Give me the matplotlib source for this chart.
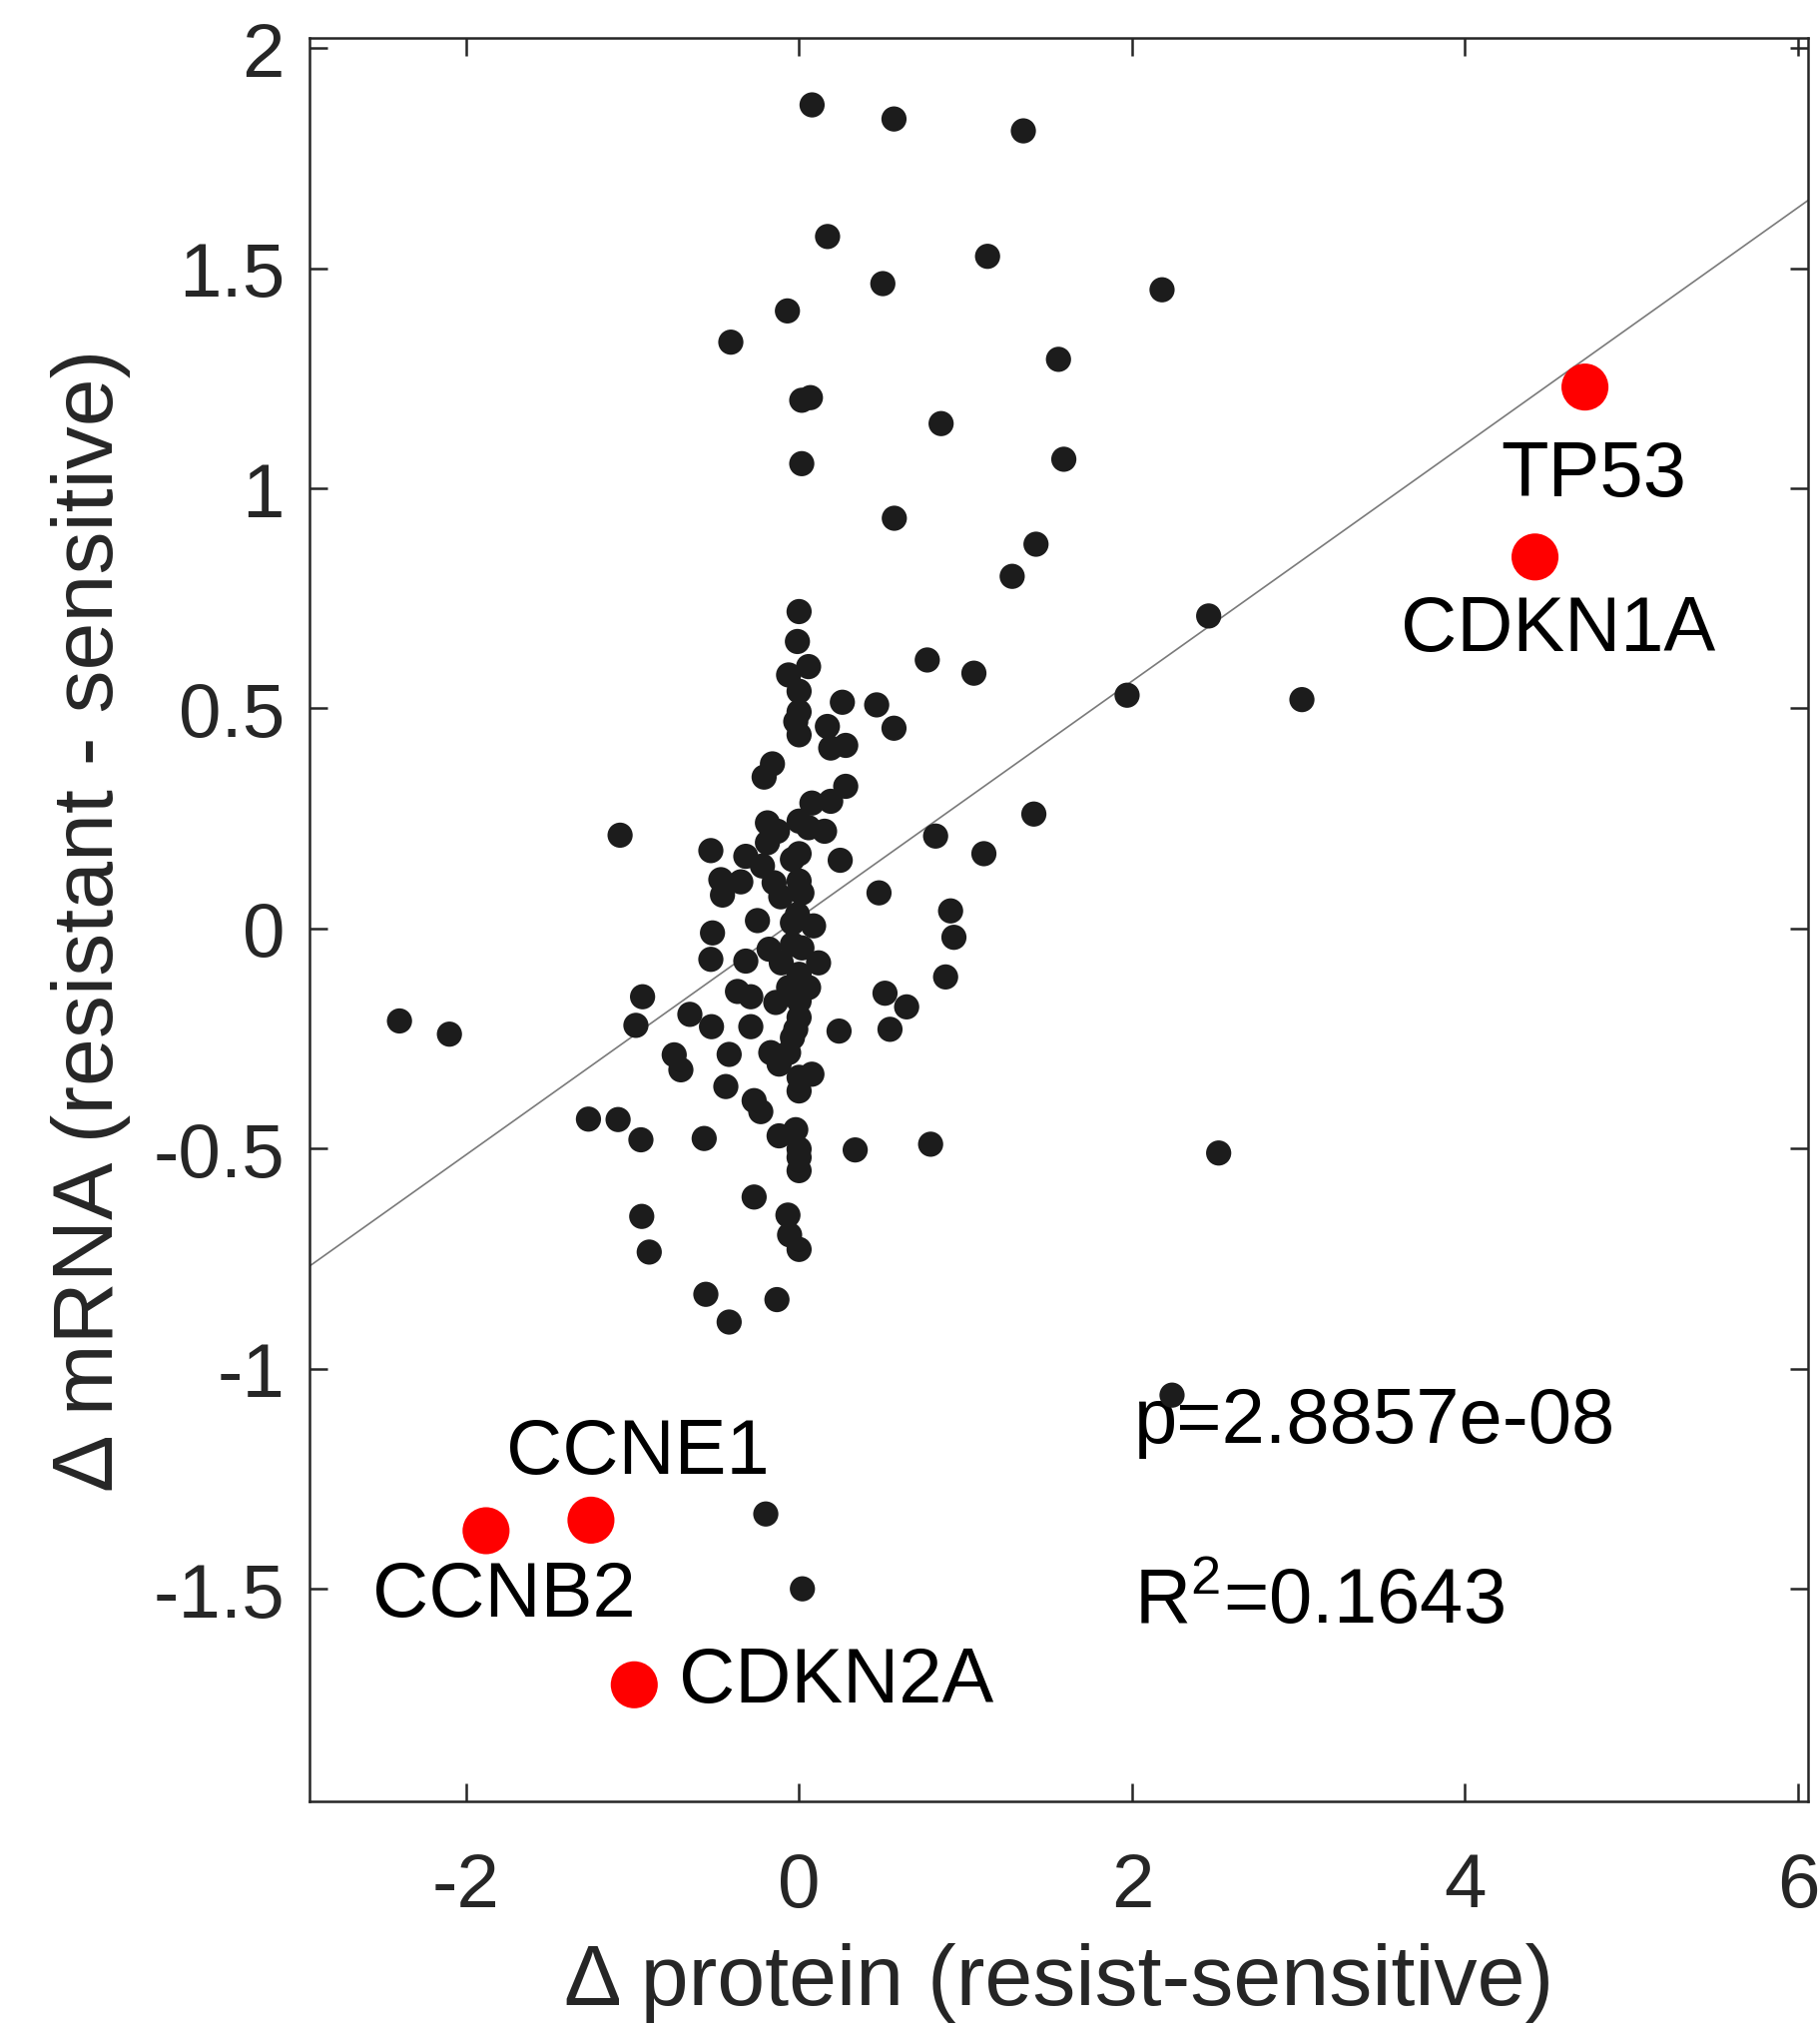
import matplotlib
matplotlib.use("Agg")
import matplotlib.pyplot as plt
import numpy as np

plt.rcParams['font.family'] = ['Liberation Sans', 'DejaVu Sans']
plt.rcParams['mathtext.fontset'] = 'custom'
plt.rcParams['mathtext.rm'] = 'Liberation Sans'

# delta protein / delta mRNA for all genes (black dots)
prot = [0.078, 0.57, 1.347, 0.171, 1.132, 0.503, 2.18, -0.07, -0.41, 1.558,
        0.016, 0.068, 0.853, 0.016, 1.59, 0.572, 1.423, 1.28, 2.46, 3.02,
        1.97, 1.05, 0.77, 1.41, 1.11, 0.82, 0.91, 0.93, 0.88, 2.52,
        2.24, -0.2, 0.02, -2.4, -2.1, 0.79,
        0.0, -0.01, 0.057, -0.063, 0.0, 0.0, -0.02, 0.0, 0.26, 0.466,
        0.57, 0.17, 0.19, 0.28, -0.16, -0.21, 0.28, 0.19, 0.077, -1.075,
        -0.53, -0.19, -0.13, -0.19, 0.0, 0.057, 0.153, 0.247, 0.0, -0.04,
        -0.32, -0.22, -0.47, -0.35, -0.46, -0.15, -0.11, 0.0, 0.017, 0.48,
        -0.25, -0.52, -0.01, 0.087, -0.04,
        -0.53, -0.32, -0.18, -0.04, 0.017, -0.107, 0.117, 0.0, 0.057, -0.063,
        -0.14, 0.0, 0.0, -0.02, -0.04, -0.063, -0.17, -0.12, 0.0, 0.077,
        0.0, -0.94, -0.98, -0.656, -0.526, -0.29, -0.37, -0.29, -0.42, -0.75,
        -0.71, -0.44, -0.27, -0.23, 0.24, 0.516, 0.646, 0.546, -1.265, -1.087,
        -0.95, -0.57, -0.12, -0.02, 0.0, 0.0, 0.0, 0.337, -0.27, -0.067,
        -0.057, 0.0, -0.945, -0.9,
        -0.56, -0.42, -0.133]
mrna = [1.871, 1.839, 1.812, 1.572, 1.527, 1.465, 1.451, 1.403, 1.332, 1.293,
        1.2, 1.206, 1.147, 1.056, 1.066, 0.932, 0.873, 0.80, 0.71, 0.52,
        0.53, 0.58, 0.61, 0.26, 0.17, 0.21, 0.04, -0.02, -0.11, -0.51,
        -1.06, -1.33, -1.50, -0.21, -0.24, -0.49,
        0.72, 0.652, 0.595, 0.576, 0.539, 0.492, 0.47, 0.44, 0.514, 0.508,
        0.455, 0.459, 0.41, 0.416, 0.374, 0.344, 0.323, 0.289, 0.285, 0.212,
        0.177, 0.24, 0.221, 0.195, 0.244, 0.229, 0.221, 0.155, 0.17, 0.157,
        0.164, 0.142, 0.111, 0.106, 0.076, 0.104, 0.072, 0.108, 0.081, 0.081,
        0.018, -0.01, 0.032, 0.006, 0.013,
        -0.07, -0.074, -0.047, -0.036, -0.044, -0.078, -0.078, -0.104, -0.134, -0.134,
        -0.168, -0.165, -0.202, -0.229, -0.248, -0.282, -0.282, -0.308, -0.338, -0.331,
        -0.369, -0.155, -0.22, -0.195, -0.223, -0.223, -0.143, -0.155, -0.286, -0.287,
        -0.321, -0.359, -0.391, -0.416, -0.233, -0.147, -0.178, -0.229, -0.433, -0.434,
        -0.48, -0.477, -0.471, -0.457, -0.501, -0.52, -0.55, -0.503, -0.61, -0.651,
        -0.696, -0.729, -0.654, -0.735,
        -0.831, -0.894, -0.843]

# highlighted genes (red)
genes = ['TP53', 'CDKN1A', 'CCNE1', 'CCNB2', 'CDKN2A']
gene_prot = [4.72, 4.42, -1.25, -1.88, -0.99]
gene_mrna = [1.23, 0.844, -1.344, -1.368, -1.718]
# label anchor per gene (x, y, horizontal alignment)
label_x = [4.775, 4.56, -0.97, -1.77, -0.72]
label_y = [1.03, 0.68, -1.19, -1.515, -1.71]
label_ha = ['center', 'center', 'center', 'center', 'left']

# linear fit
slope = 0.269
intercept = 0.024
p_text = 'p=2.8857e-08'
r2_text = r'$\mathregular{R^2}$=0.1643'

xlim = (-2.94, 6.06)
ylim = (-1.983, 2.023)

fig = plt.figure(figsize=(18.24, 20.33), dpi=100)
ax = fig.add_axes([0.17, 0.1121, 0.8229, 0.8687])

xs = np.array(xlim)
ax.plot(xs, slope * xs + intercept, color='#7a7a7a', lw=1.2, zorder=1)

ax.scatter(prot, mrna, s=330, color='#1c1c1c', edgecolors='none', zorder=3)
ax.scatter(gene_prot, gene_mrna, s=1150, color='#ff0000', edgecolors='none', zorder=3)

for g, lx, ly, ha in zip(genes, label_x, label_y, label_ha):
    ax.text(lx, ly, g, ha=ha, va='center', fontsize=56, color='black', zorder=2)

ax.text(2.01, -1.12, p_text, ha='left', va='center', fontsize=56, color='black', zorder=2)
ax.text(2.01, -1.53, r2_text, ha='left', va='center', fontsize=56, color='black', zorder=2)

ax.set_xlim(xlim)
ax.set_ylim(ylim)
ax.set_xticks([-2, 0, 2, 4, 6])
ax.set_xticklabels(['-2', '0', '2', '4', '6'])
ax.set_yticks([-1.5, -1, -0.5, 0, 0.5, 1, 1.5, 2])
ax.set_yticklabels(['-1.5', '-1', '-0.5', '0', '0.5', '1', '1.5', '2'])

for sp in ax.spines.values():
    sp.set_color('#262626')
    sp.set_linewidth(1.8)
ax.tick_params(axis='both', which='both', direction='in', top=True, right=True,
               length=13, width=1.8, color='#262626', labelcolor='#262626',
               labelsize=55)
ax.tick_params(axis='x', pad=36)
ax.tick_params(axis='y', pad=18)

ax.set_xlabel('\u0394 protein (resist-sensitive)', fontsize=62, color='#262626', labelpad=14)
ax.set_ylabel('\u0394 mRNA (resistant - sensitive)', fontsize=62, color='#262626', labelpad=16)

fig.savefig('out.png', dpi=100)
